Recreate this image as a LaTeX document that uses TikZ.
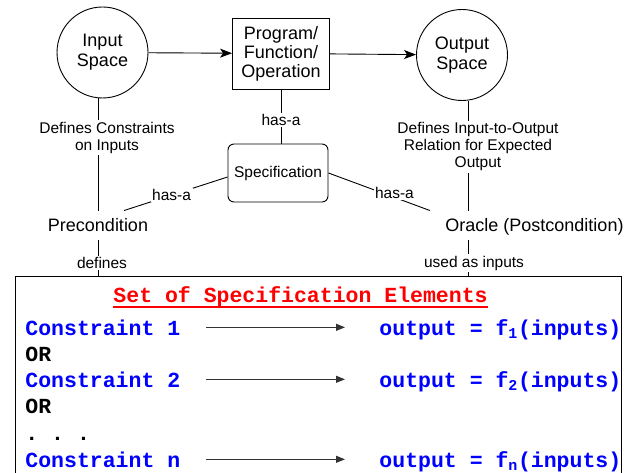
\documentclass[tikz,border=0pt]{standalone}
\usepackage{fontspec}
\setmainfont{Liberation Sans}
\setmonofont{Liberation Mono}
\usepackage{xcolor}
\usepackage{tikz}
\usetikzlibrary{positioning,arrows.meta}

\definecolor{specblue}{RGB}{0,0,255}
\definecolor{specred}{RGB}{255,0,0}

\begin{document}
\begin{tikzpicture}[x=1pt,y=-1pt,line width=0.9pt,
  space/.style={draw,circle,minimum size=91pt,inner sep=0pt,align=center,font=\fontsize{18}{20}\selectfont},
  prog/.style={draw,minimum width=97pt,minimum height=71pt,align=center,font=\fontsize{18}{19}\selectfont},
  spec/.style={draw,rounded corners=6pt,minimum width=100pt,minimum height=58pt,font=\fontsize{15.5}{17}\selectfont},
  cond/.style={font=\fontsize{18}{20}\selectfont,text height=13pt,text depth=0pt,inner ysep=8pt,inner xsep=3pt,anchor=base},
  lbl/.style={fill=white,inner sep=1.5pt,align=center,font=\fontsize{15.5}{17}\selectfont},
  code/.style={font=\fontsize{21.5}{26}\selectfont\ttfamily\bfseries,inner sep=0pt,anchor=base west},
  flow/.style={-{Stealth[length=12pt,width=9pt,inset=3pt]}},
  maps/.style={-{Triangle[length=9pt,width=7pt]},line width=1pt,black!80,shorten <=25pt,shorten >=34pt}]
\useasboundingbox (0,0) rectangle (635,473);
\clip (0,0) rectangle (635,473);
% top row
\node[space] (in) at (102.5,52.5) {Input\\Space};
\node[prog] (prog) at (281,53.5) {Program/\\Function/\\Operation};
\node[space] (out) at (462,55) {Output\\Space};
\draw[flow] (in) -- (prog);
\draw[flow] (prog) -- (out);
% specification and its parts
\node[spec] (spec) at (278,173) {Specification};
\node[cond] (pre) at (98,232) {Precondition};
\node[cond] (orc) at (534.5,232) {Oracle (Postcondition)};
\coordinate (ox) at (468,0);
\draw (prog.south) -- node[lbl,pos=.56] (hp) {has-a} (prog.south|-spec.north);
\draw (in.south-|pre) -- node[lbl,pos=.35,xshift=9pt] (dcon) {Defines Constraints\\on Inputs} (pre.north);
\draw (out.south-|ox) -- node[lbl,pos=.42,xshift=10pt] (dio) {Defines Input-to-Output\\Relation for Expected\\Output} (orc.north-|ox);
\draw ([yshift=-4pt]spec.west) -- node[lbl,pos=.54] (hl) {has-a} ([xshift=26pt]pre.north);
\draw (spec.east) -- node[lbl,pos=.65,yshift=4.5pt] (hr) {has-a} ([xshift=-104.5pt]orc.north);
% set of elements
\node[draw,line width=1.2pt,minimum width=606pt,minimum height=210pt,anchor=north west,inner sep=0pt] (set) at (14.5,276) {};
\draw (pre.south) -- node[lbl,pos=.64,xshift=4pt] (dfn) {defines} (pre.south|-set.north);
\draw (orc.south-|ox) -- node[lbl,pos=.64,xshift=6pt] (uai) {used as inputs} (set.north-|ox);
\node[code,text=specred] (ttl) at (113,302) {Set of Specification Elements};
\draw[specred,line width=2pt] ([yshift=-5pt]ttl.base west) -- ([yshift=-5pt]ttl.base east);
\node[code,text=specblue] (c1) at (25,335) {Constraint 1};
\node[code] (or1) at (25,361) {OR};
\node[code,text=specblue] (c2) at (25,387) {Constraint 2};
\node[code] (or2) at (25,413) {OR};
\node[code] (dts) at (25,440) {. . .};
\node[code,text=specblue] (cn) at (25,467) {Constraint n};
\node[code,text=specblue] (o1) at (379,335) {output = f\textsubscript{1}(inputs)};
\node[code,text=specblue] (o2) at (379,387) {output = f\textsubscript{2}(inputs)};
\node[code,text=specblue] (on) at (379,467) {output = f\textsubscript{n}(inputs)};
\foreach \c/\o in {c1/o1,c2/o2,cn/on}
  \draw[maps] (\c.east) -- (\c.east-|\o.west);
\end{tikzpicture}
\end{document}
